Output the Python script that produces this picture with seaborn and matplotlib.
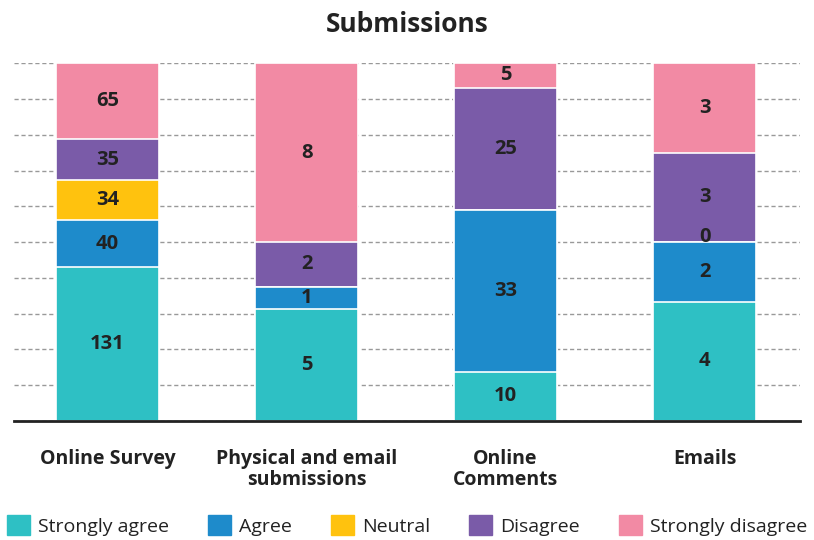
import pandas as pd
import seaborn as sns
import matplotlib.pyplot as plt
import numpy as np

# Data
sources = ['Online Survey', 'Physical and email\nsubmissions', 'Online\nComments', 'Emails']
responses = ['Strongly agree', 'Agree', 'Neutral', 'Disagree', 'Strongly disagree']
strongly_agree = [131, 5, 10, 4]
agree = [40, 1, 33, 2]
neutral = [34, 0, 0, 0]
disagree = [35, 2, 25, 3]
strongly_disagree = [65, 8, 5, 3]
colors = ['#2EC0C4', '#1E8BCB', '#FFC20E', '#7A5BA8', '#F28AA4']

df = pd.DataFrame({'source': sources,
                   'Strongly agree': strongly_agree,
                   'Agree': agree,
                   'Neutral': neutral,
                   'Disagree': disagree,
                   'Strongly disagree': strongly_disagree})
counts = df.set_index('source')[responses]
pct = counts.div(counts.sum(axis=1), axis=0) * 100
cum = pct.cumsum(axis=1)

sns.set_theme(style='white')
plt.rcParams['font.family'] = ['Open Sans', 'DejaVu Sans']
text_col = '#222222'

fig = plt.figure(figsize=(8.14, 5.4), dpi=100)
ax = fig.add_axes([0.0172, 0.2204, 0.9658, 0.6626])

# draw cumulative bars from the top category down so each sits over the previous
for resp, col in zip(reversed(responses), reversed(colors)):
    d = cum[resp].reset_index()
    sns.barplot(data=d, x='source', y=resp, color=col, saturation=1, width=0.52,
                edgecolor='white', linewidth=1.2, ax=ax, zorder=3)

# value labels
for i, src in enumerate(counts.index):
    for resp in responses:
        v = counts.loc[src, resp]
        show = v > 0 or (src == 'Emails' and resp == 'Neutral')
        if not show:
            continue
        mid = cum.loc[src, resp] - pct.loc[src, resp] / 2
        if v == 0:
            mid += 1.5
        ax.text(i, mid, str(v), ha='center', va='center', fontsize=14.5,
                fontweight='bold', color=text_col, zorder=5)

ax.set_xlim(-0.47, 3.48)
ax.set_ylim(0, 100)
ax.set_yticks(np.arange(0, 101, 10))
ax.yaxis.grid(True, linestyle=(0, (3, 2)), color='#999999', linewidth=1)
ax.set_axisbelow(True)
ax.tick_params(axis='y', left=False, labelleft=False)
ax.tick_params(axis='x', bottom=False, pad=14)
ax.set_xlabel('')
ax.set_ylabel('')
for s in ['top', 'right', 'left']:
    ax.spines[s].set_visible(False)
ax.spines['bottom'].set_color('#222222')
ax.spines['bottom'].set_linewidth(2)
ax.spines['bottom'].set_zorder(6)
for lab in ax.get_xticklabels():
    lab.set_fontsize(14)
    lab.set_fontweight('bold')
    lab.set_color(text_col)
    lab.set_linespacing(1.05)
    lab.set_va('top')

fig.text(0.5, 0.955, 'Submissions', ha='center', va='center', fontsize=19,
         fontweight='bold', color=text_col)

handles = [plt.Rectangle((0, 0), 1, 1, color=c) for c in colors]
fig.legend(handles, responses, loc='lower center', bbox_to_anchor=(0.5, -0.025),
           ncol=5, frameon=False, fontsize=14, handlelength=1.2, handleheight=1.2,
           handletextpad=0.4, columnspacing=2.0, labelcolor=text_col)

fig.savefig('out.png', dpi=100)
